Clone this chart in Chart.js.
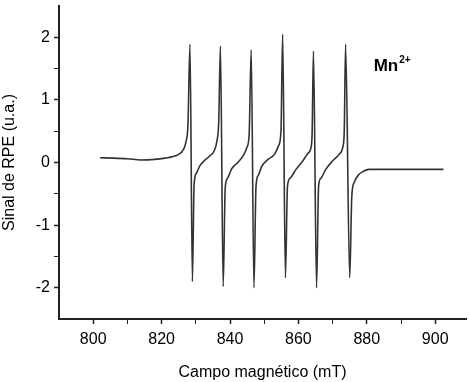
<!DOCTYPE html>
<html>
<head>
<meta charset="utf-8">
<script src="https://cdn.jsdelivr.net/npm/chart.js@4"></script>
<style>
  html, body { margin: 0; padding: 0; background: #fff; }
</style>
</head>
<body>
<canvas id="chart" width="469" height="382"></canvas>
<script>
// magnetic field (mT) and EPR signal (a.u.)
const fieldMT = [
    802, 806, 810, 814, 818, 821, 823, 825, 826.3, 827.2, 827.7,
    828.3, 829.0, 829.5, 830.2, 831.2, 832.5, 834, 835.3, 836.2, 836.7,
    837.2, 838.0, 838.6, 839.3, 840.5, 842.3, 844.0, 845.0, 845.6,
    846.2, 847.0, 847.6, 848.3, 849.3, 851.1, 853.0, 854.2, 854.9,
    855.4, 856.2, 856.8, 857.6, 859.3, 861.2, 862.7, 863.6, 864.0,
    864.4, 865.3, 865.9, 866.6, 868.0, 869.9, 871.9, 873.0, 873.4,
    873.8, 875.0, 875.6, 876.3, 877.7, 879, 880.6, 890, 902.4
];
const signal = [
    0.075, 0.07, 0.06, 0.04, 0.05, 0.07, 0.09, 0.13, 0.2, 0.35, 0.6,
    1.89, -1.90, -0.35, -0.17, -0.05, 0.03, 0.10, 0.18, 0.35, 0.65,
    1.86, -1.98, -0.4, -0.25, -0.1, 0.0, 0.12, 0.25, 0.45,
    1.80, -2.0, -0.38, -0.2, -0.06, 0.05, 0.13, 0.27, 0.5,
    2.05, -1.84, -0.38, -0.25, -0.11, 0.02, 0.14, 0.22, 0.45,
    1.78, -2.0, -0.38, -0.25, -0.11, 0.02, 0.13, 0.25, 0.5,
    1.89, -1.84, -0.55, -0.32, -0.19, -0.14, -0.11, -0.11, -0.11
];

// labelled ticks and the unlabelled minor ticks between them
const xTickLabels = [800, 820, 840, 860, 880, 900];
const xMinorTicks = [810, 830, 850, 870, 890];
const yTickLabels = [-2, -1, 0, 1, 2];
const yMinorTicks = [-1.5, -0.5, 0.5, 1.5];
const ionLabel = 'Mn';
const ionCharge = '2+';

const points = fieldMT.map((x, i) => ({ x: x, y: signal[i] }));
const font = '"Liberation Sans", Arial, sans-serif';
const axisColor = '#222';
const textColor = '#000';

function tickList(major, minor) {
    return major.concat(minor).sort((a, b) => a - b).map(v => ({ value: v }));
}

// "Mn2+" annotation placed through the chart scales
const ionLabelPlugin = {
    id: 'ionLabel',
    afterDatasetsDraw(chart) {
        const ctx = chart.ctx;
        const x = chart.scales.x.getPixelForValue(882);
        const y = chart.scales.y.getPixelForValue(1.46);
        ctx.save();
        ctx.fillStyle = textColor;
        ctx.textBaseline = 'alphabetic';
        ctx.font = 'bold 17px ' + font;
        ctx.fillText(ionLabel, x, y);
        const w = ctx.measureText(ionLabel).width;
        ctx.font = 'bold 10px ' + font;
        ctx.fillText(ionCharge, x + w + 1, y - 8);
        ctx.restore();
    }
};

new Chart(document.getElementById('chart'), {
    type: 'line',
    data: {
        datasets: [{
            data: points,
            borderColor: '#333',
            borderWidth: 1.6,
            pointRadius: 0,
            cubicInterpolationMode: 'monotone',
            fill: false
        }]
    },
    options: {
        responsive: false,
        animation: false,
        devicePixelRatio: 1,
        layout: { padding: { top: 6, right: 3, left: 0, bottom: 0 } },
        plugins: { legend: { display: false }, tooltip: { enabled: false } },
        scales: {
            x: {
                type: 'linear',
                min: 790,
                max: 909,
                afterBuildTicks: s => { s.ticks = tickList(xTickLabels, xMinorTicks); },
                afterFit: s => { s.height = 63; s.paddingLeft = 0; s.paddingRight = 0; },
                border: { display: true, color: axisColor, width: 2 },
                grid: {
                    drawOnChartArea: false,
                    drawTicks: true,
                    tickLength: 5,
                    tickColor: axisColor,
                    tickWidth: c => xTickLabels.includes(c.tick.value) ? 1.5 : 1
                },
                ticks: {
                    autoSkip: false,
                    maxRotation: 0,
                    padding: 6,
                    color: textColor,
                    font: { family: font, size: 16 },
                    callback: v => xTickLabels.includes(v) ? String(v) : ''
                },
                title: {
                    display: true,
                    text: 'Campo magnético (mT)',
                    color: textColor,
                    font: { family: font, size: 16 },
                    padding: { top: 5, bottom: 0 }
                }
            },
            y: {
                type: 'linear',
                min: -2.5,
                max: 2.5,
                afterBuildTicks: s => { s.ticks = tickList(yTickLabels, yMinorTicks); },
                afterFit: s => { s.width = 59; s.paddingTop = 0; s.paddingBottom = 0; },
                border: { display: true, color: axisColor, width: 2 },
                grid: {
                    drawOnChartArea: false,
                    drawTicks: true,
                    tickLength: 5,
                    tickColor: axisColor,
                    tickWidth: c => yTickLabels.includes(c.tick.value) ? 1.5 : 1
                },
                ticks: {
                    autoSkip: false,
                    padding: 4,
                    color: textColor,
                    font: { family: font, size: 16 },
                    callback: v => yTickLabels.includes(v) ? String(v) : ''
                },
                title: {
                    display: true,
                    text: 'Sinal de RPE (u.a.)',
                    color: textColor,
                    font: { family: font, size: 16 },
                    padding: { top: 0, bottom: 2 }
                }
            }
        }
    },
    plugins: [ionLabelPlugin]
});
</script>
</body>
</html>
